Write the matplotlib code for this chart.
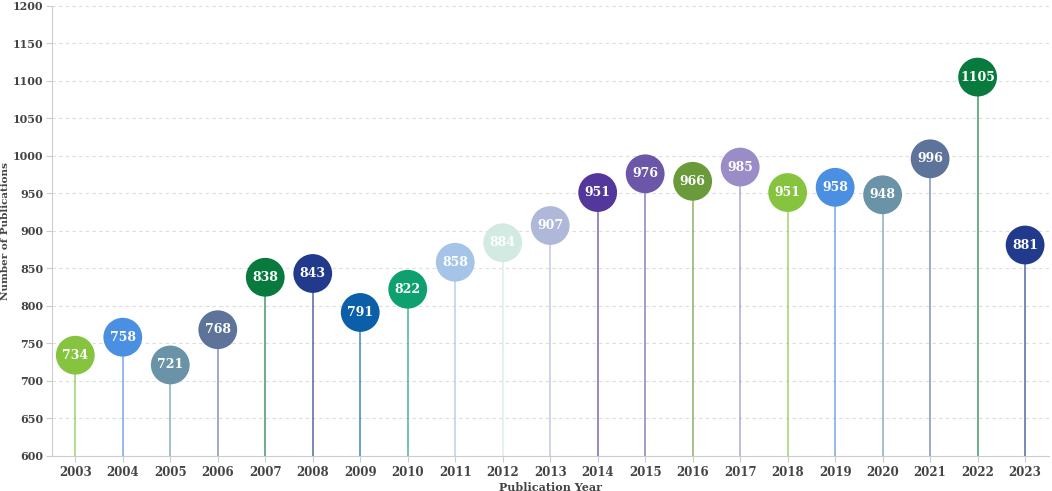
import numpy as np
import matplotlib.pyplot as plt

# --- Data ---
years = list(range(2003, 2024))
publications = [734, 758, 721, 768, 838, 843, 791, 822, 858, 884, 907,
                951, 976, 966, 985, 951, 958, 948, 996, 1105, 881]

# colour cycle repeats every 15 bubbles
palette = ['#86c440', '#4a8fe2', '#6a93a8', '#5e7399', '#087a3e',
           '#213a8c', '#0b5ea8', '#0fa070', '#a6c3e8', '#d2eae2',
           '#b0b8da', '#54379a', '#6c56a8', '#6a9a3a', '#9a8cc6']
colors = [palette[i % len(palette)] for i in range(len(years))]

plt.rcParams['font.family'] = ['DejaVu Serif']

fig, ax = plt.subplots(figsize=(10.52, 4.91), dpi=100)
fig.subplots_adjust(left=0.049, right=0.997, top=0.988, bottom=0.072)

for x, y, c in zip(years, publications, colors):
    ax.vlines(x, 600, y, colors=c, linewidth=1.2, alpha=0.7, zorder=2)

ax.scatter(years, publications, s=780, c=colors, zorder=3, linewidths=0)
for x, y in zip(years, publications):
    ax.text(x, y, str(y), color='white', ha='center', va='center',
            fontsize=9, fontweight='bold', zorder=4)

ax.set_xlim(2002.5, 2023.5)
ax.set_ylim(600, 1200)
ax.set_xticks(years)
ax.set_yticks(np.arange(600, 1201, 50))
ax.tick_params(axis='both', labelsize=8.5, colors='#cccccc', labelcolor='#444444', length=4)
ax.tick_params(axis='y', pad=2, labelsize=8)
for lab in ax.get_xticklabels() + ax.get_yticklabels():
    lab.set_fontweight('bold')

ax.grid(axis='y', linestyle=(0, (3, 3)), color='#dddddd', linewidth=0.8, zorder=0)
ax.set_axisbelow(True)
for s in ['top', 'right']:
    ax.spines[s].set_visible(False)
for s in ['left', 'bottom']:
    ax.spines[s].set_color('#cccccc')

ax.set_xlabel('Publication Year', fontsize=8, fontweight='bold', color='#444444', labelpad=2)
ax.set_ylabel('Number of Publications', fontsize=7.5, fontweight='bold', color='#444444', labelpad=2)

fig.savefig('out.png', dpi=100)
